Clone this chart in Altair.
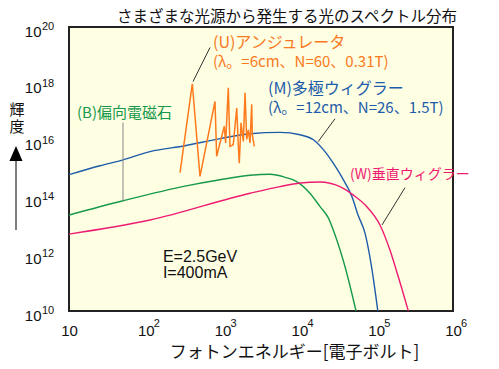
import altair as alt
import pandas as pd

# ---------------- data ----------------
# (B) bending magnet
b_energy = [10, 50.5, 324, 925, 2275, 4140, 6495, 9220, 1.37e4, 1.85e4, 2.38e4, 2.86e4, 3.93e4, 5.46e4]
b_bright = [2.4e13, 7.6e13, 2.5e14, 4.2e14, 6.0e14, 6.5e14, 5.1e14, 3.6e14, 1.4e14, 4.8e13, 1.9e13, 5.5e12, 3.6e11, 1.0e10]
# (M) multipole wiggler
m_energy = [10, 25.3, 50.5, 113.5, 324, 925, 2275, 5585, 1.02e4, 1.52e4, 2.05e4, 2.76e4, 3.73e4, 4.84e4, 5.8e4, 7.15e4, 8.7e4, 1.05e5]
m_bright = [6.3e14, 1.3e15, 2.1e15, 4.1e15, 6.6e15, 1.17e16, 1.75e16, 1.95e16, 1.6e16, 1.07e16, 4.8e15, 1.6e15, 4.2e14, 1.05e14, 2.4e13, 5.5e12, 3.6e11, 1.0e10]
# (W) vertical wiggler
w_energy = [10, 113.5, 2275, 5585, 1.02e4, 1.85e4, 3.38e4, 5.04e4, 7.5e4, 1.12e5, 1.51e5, 1.94e5, 2.62e5]
w_bright = [5.1e12, 1.6e13, 1.4e14, 2.4e14, 3.2e14, 3.5e14, 2.4e14, 1.2e14, 4.8e13, 1.07e13, 1.4e12, 1.6e11, 1.0e10]
# (U) undulator
u_energy = [279, 403, 508, 796, 837, 1052, 1096, 1186, 1248, 1377, 1527, 1600, 1650, 1736, 1862, 1960, 2061, 2163, 2275, 2393, 2438, 2588]
u_bright = [7.4e14, 1.0e18, 5.5e14, 2.4e17, 2.8e15, 3.2e16, 8.3e15, 7.2e17, 6.3e15, 7.2e15, 1.4e17, 7.2e15, 1.6e15, 4.2e16, 9.4e15, 4.8e17, 1.1e16, 2.4e16, 8.3e15, 1.9e17, 1.6e16, 6.3e15]

series_names = ["B", "M", "W", "U"]
series_colors = ["#16994c", "#1d5caa", "#ee1a72", "#ff7a1c"]

x_ticks = [10, 1e2, 1e3, 1e4, 1e5, 1e6]
x_exps = ["2", "3", "4", "5", "6"]
y_ticks = [1e10, 1e12, 1e14, 1e16, 1e18, 1e20]
y_exps = ["10", "12", "14", "16", "18", "20"]

label_text = ["(U)アンジュレータ", "(λ。=6cm、N=60、0.31T)",
              "(M)多極ウィグラー", "(λ。=12cm、N=26、1.5T)",
              "(W)垂直ウィグラー", "(B)偏向電磁石"]
label_e = [750, 750, 3900, 3900, 4.56e4, 12.7]
label_b = [2.75e19, 5.9e18, 6.3e17, 1.35e17, 6.3e14, 9.5e16]
label_size = [16, 15, 16, 15, 14, 15]
label_color = ["#f97a1e", "#f97a1e", "#1d5caa", "#1d5caa", "#ee1a72", "#16994c"]

note_text = ["E=2.5GeV", "I=400mA"]
note_e = [167, 167]
note_b = [8.0e11, 2.2e11]

ptr_e1 = [686, 2.91e4, 2.37e5, 50.5]
ptr_b1 = [1.9e19, 5.9e16, 2.2e14, 4.3e16]
ptr_e2 = [412, 1.75e4, 1.19e5, 50.5]
ptr_b2 = [1.2e18, 9.1e15, 1.07e13, 7.6e13]
ptr_color = ["#333333", "#333333", "#333333", "#888888"]

title_text = "さまざまな光源から発生する光のスペクトル分布"
y_title = "輝\n度"

# ---------------- tables ----------------
rows = []
for name, es, bs in [("B", b_energy, b_bright), ("M", m_energy, m_bright),
                     ("W", w_energy, w_bright)]:
    for i, (e, b) in enumerate(zip(es, bs)):
        rows.append({"series": name, "E": e, "Bri": b, "i": i})
curves = pd.DataFrame(rows)
und = pd.DataFrame({"E": u_energy, "Bri": u_bright, "i": list(range(len(u_energy)))})
labels = pd.DataFrame({"t": label_text, "E": label_e, "Bri": label_b, "c": label_color, "s": label_size})
notes = pd.DataFrame({"t": note_text, "E": note_e, "Bri": note_b})
ptrs = pd.DataFrame({"E1": ptr_e1, "B1": ptr_b1, "E2": ptr_e2, "B2": ptr_b2, "c": ptr_color})
xexp = pd.DataFrame({"E": x_ticks[1:], "t": x_exps})
yexp = pd.DataFrame({"Bri": y_ticks, "t": y_exps})

JP = "Noto Sans CJK JP"
LAT = "Liberation Sans"
W, H = 384, 284

xs = alt.Scale(type="log", domain=[10, 1e6], nice=False)
ys = alt.Scale(type="log", domain=[1e10, 1e20], nice=False)

x_axis = alt.Axis(values=x_ticks, labelExpr="'10'", ticks=False, domain=False, grid=False,
                  labelFont=LAT, labelFontSize=15, labelColor="#111", labelPadding=12,
                  labelFlush=False, labelOverlap=False,
                  title="フォトンエネルギー[電子ボルト]", titleFont=JP, titleFontSize=17,
                  titleFontWeight="normal", titleColor="#111",
                  titleX=225, titleY=41, titleAlign="center", titleBaseline="middle")
y_axis = alt.Axis(values=y_ticks, labelExpr="'10'", ticks=False, domain=False, grid=False,
                  labelFont=LAT, labelFontSize=15, labelColor="#111", labelPadding=28,
                  labelOffset=4, labelFlush=False, labelOverlap=False, title="")

lines = alt.Chart(curves).mark_line(strokeWidth=1.4, interpolate="monotone", clip=True).encode(
    x=alt.X("E:Q", scale=xs, axis=x_axis),
    y=alt.Y("Bri:Q", scale=ys, axis=y_axis),
    color=alt.Color("series:N", scale=alt.Scale(domain=series_names, range=series_colors), legend=None),
    detail="series:N",
    order="i:Q",
)
und_line = alt.Chart(und).mark_line(strokeWidth=1.5, color="#ff7a1c").encode(
    x=alt.X("E:Q", scale=xs), y=alt.Y("Bri:Q", scale=ys), order="i:Q")

pointers = alt.Chart(ptrs).mark_rule(strokeWidth=1).encode(
    x=alt.X("E1:Q", scale=xs), y=alt.Y("B1:Q", scale=ys),
    x2="E2:Q", y2="B2:Q", color=alt.Color("c:N", scale=None))

label_marks = alt.Chart(labels).mark_text(align="left", baseline="middle", font=JP).encode(
    x=alt.X("E:Q", scale=xs), y=alt.Y("Bri:Q", scale=ys), text="t:N",
    size=alt.Size("s:Q", scale=None),
    color=alt.Color("c:N", scale=None))

note_marks = alt.Chart(notes).mark_text(align="left", baseline="middle", font=LAT, fontSize=16,
                                         color="#111").encode(
    x=alt.X("E:Q", scale=xs), y=alt.Y("Bri:Q", scale=ys), text="t:N")

xexp_marks = alt.Chart(xexp).mark_text(align="left", baseline="middle", font=LAT, fontSize=11,
                                        dx=8, color="#111").encode(
    x=alt.X("E:Q", scale=xs), y=alt.value(H + 13), text="t:N")
yexp_marks = alt.Chart(yexp).mark_text(align="left", baseline="middle", font=LAT, fontSize=11,
                                        color="#111").encode(
    x=alt.value(-27), y=alt.Y("Bri:Q", scale=ys), text="t:N")

one = alt.Data(values=[{"a": 1}])
title_mark = alt.Chart(one).mark_text(align="center", baseline="top", font=JP, fontSize=15.5,
                                       color="#111", text=title_text).encode(
    x=alt.value(218), y=alt.value(-17))
ytitle_mark = alt.Chart(one).mark_text(align="center", baseline="top", font=JP, fontSize=15,
                                        lineBreak="\n", lineHeight=17, color="#111",
                                        text=y_title).encode(
    x=alt.value(-52), y=alt.value(76))
arrow_head = alt.Chart(one).mark_point(shape="M-0.87,1L0.87,1L0,-1Z", filled=True, size=225,
                                       color="#000", opacity=1).encode(
    x=alt.value(-53), y=alt.value(126.5))
arrow_line = alt.Chart(one).mark_rule(color="#000", strokeWidth=1).encode(
    x=alt.value(-53), y=alt.value(133), y2=alt.value(203))

chart = alt.layer(lines, und_line, pointers, label_marks, note_marks, xexp_marks, yexp_marks,
                  title_mark, ytitle_mark, arrow_head, arrow_line).properties(
    width=W, height=H,
    autosize=alt.AutoSizeParams(type="none"),
    padding={"left": 61, "top": 19, "right": 38, "bottom": 50},
).configure_view(fill="#fefee2", stroke="#222", strokeWidth=2)

chart.save("out.html", embed_options={"renderer": "svg", "actions": False})
